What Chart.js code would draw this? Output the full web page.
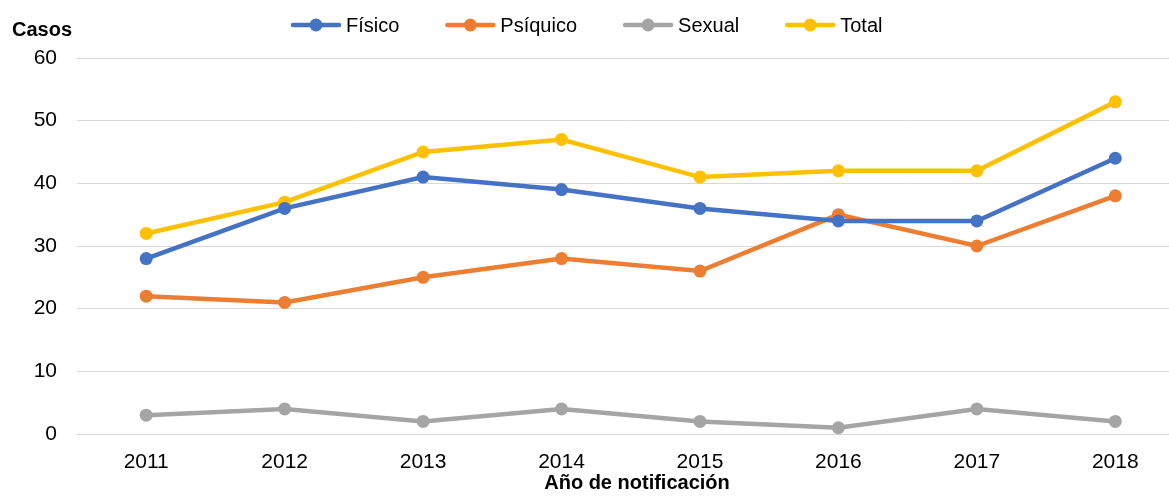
<!DOCTYPE html>
<html>
<head>
<meta charset="utf-8">
<script src="https://cdn.jsdelivr.net/npm/chart.js@4.4.1/dist/chart.umd.min.js"></script>
<style>
html,body{margin:0;padding:0;background:#fff;overflow:hidden;width:1169px;height:501px;}
#wrap{width:1191px;height:501px;position:relative;}
</style>
</head>
<body>
<div id="wrap"><canvas id="c"></canvas></div>
<script>
const years = ['2011','2012','2013','2014','2015','2016','2017','2018'];
const fisico   = [28, 36, 41, 39, 36, 34, 34, 44];
const psiquico = [22, 21, 25, 28, 26, 35, 30, 38];
const sexual   = [3, 4, 2, 4, 2, 1, 4, 2];
const total    = [32, 37, 45, 47, 41, 42, 42, 53];
const seriesNames = ['Físico', 'Psíquico', 'Sexual', 'Total'];
const yTitle = 'Casos';
const xTitle = 'Año de notificación';

const colors = ['#4472C4', '#ED7D31', '#A5A5A5', '#FFC000'];
const FONT = '"Liberation Sans", Arial, sans-serif';

function ds(label, data, color){
  return {label, data, borderColor: color, backgroundColor: color,
    borderWidth: 4.5, pointRadius: 6.5, pointHoverRadius: 6.5,
    pointBackgroundColor: color, pointBorderColor: color, pointBorderWidth: 0,
    tension: 0, clip: false};
}

const textPlugin = {
  id: 'texts',
  afterDraw(chart){
    const ctx = chart.ctx;
    ctx.save();
    ctx.fillStyle = '#000';
    ctx.font = 'bold 20px ' + FONT;
    ctx.textAlign = 'left';
    ctx.textBaseline = 'middle';
    ctx.fillText(yTitle, 12, 30);
    ctx.textAlign = 'center';
    ctx.fillText(xTitle, 637, 483);
    ctx.font = '20px ' + FONT;
    ctx.textAlign = 'left';
    let x = 291;
    const y = 25;
    chart.data.datasets.forEach((d) => {
      const mw = 50;
      ctx.strokeStyle = d.borderColor;
      ctx.lineWidth = 4.5;
      ctx.lineCap = 'round';
      ctx.beginPath();
      ctx.moveTo(x + 2, y);
      ctx.lineTo(x + mw - 2, y);
      ctx.stroke();
      ctx.fillStyle = d.borderColor;
      ctx.beginPath();
      ctx.arc(x + mw/2, y, 6.5, 0, Math.PI*2);
      ctx.fill();
      ctx.fillStyle = '#000';
      ctx.fillText(d.label, x + mw + 5, y + 1);
      x += mw + 5 + ctx.measureText(d.label).width + 46;
    });
    ctx.restore();
  }
};

new Chart(document.getElementById('c'), {
  type: 'line',
  data: {
    labels: years,
    datasets: [
      ds(seriesNames[0], fisico, colors[0]),
      ds(seriesNames[1], psiquico, colors[1]),
      ds(seriesNames[2], sexual, colors[2]),
      ds(seriesNames[3], total, colors[3])
    ]
  },
  options: {
    responsive: true,
    maintainAspectRatio: false,
    animation: false,
    layout: {padding: {top: 58, right: 0, bottom: 0, left: 0}},
    plugins: {legend: {display: false}, title: {display: false}, tooltip: {enabled: false}},
    scales: {
      x: {
        offset: true,
        grid: {display: false, drawTicks: false},
        border: {display: false},
        ticks: {color: '#000', font: {family: FONT, size: 21}, padding: 16, maxRotation: 0},
        afterFit(s){ s.height = 67; }
      },
      y: {
        min: 0, max: 60,
        grid: {color: '#D9D9D9', lineWidth: 1, drawTicks: false},
        border: {display: false},
        ticks: {stepSize: 10, color: '#000', font: {family: FONT, size: 21}, padding: 20},
        afterFit(s){ s.width = 77; }
      }
    }
  },
  plugins: [textPlugin]
});
</script>
</body>
</html>
